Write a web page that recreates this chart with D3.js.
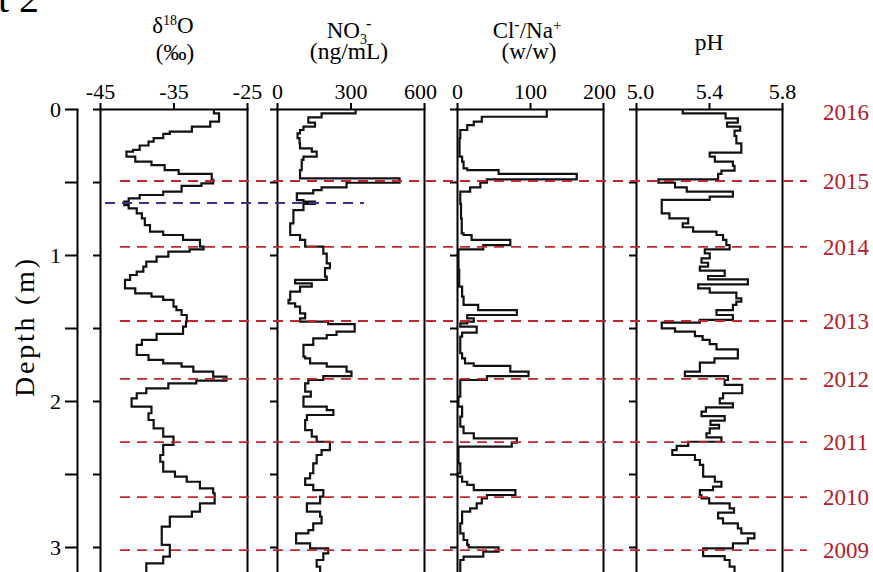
<!DOCTYPE html>
<html><head><meta charset="utf-8">
<script src="https://cdn.jsdelivr.net/npm/d3@7"></script>
<style>
body{margin:0;background:#fff}
svg{display:block}
text{font-family:"Liberation Serif","Times New Roman",serif}
</style>
</head><body>
<svg id="c" width="873" height="572"></svg>
<script>
// ---------------- data ----------------
const depthTicks = [0, 0.5, 1, 1.5, 2, 2.5, 3];
const yearLabels = ["2016", "2015", "2014", "2013", "2012", "2011", "2010", "2009"];
const yearDepths = [0.025, 0.493, 0.945, 1.452, 1.849, 2.281, 2.658, 3.021];
const blueDepth = 0.644;

const d18OTicks = [-45, -35, -25];
const d18OTickLabels = ["-45", "-35", "-25"];
const no3Ticks = [0, 300, 600];
const no3TickLabels = ["0", "300", "600"];
const clnaTicks = [0, 100, 200];
const clnaTickLabels = ["0", "100", "200"];
const phTicks = [5.0, 5.4, 5.8];
const phTickLabels = ["5.0", "5.4", "5.8"];

// [top depth of sample (m), value]
const d18O = [[0.00,-29.5],[0.03,-28.8],[0.087,-30.0],[0.121,-32.5],[0.155,-35.5],[0.17,-36.4],[0.20,-37.7],[0.224,-38.4],[0.25,-39.6],[0.28,-40.5],[0.292,-41.4],[0.326,-40.2],[0.361,-38.0],[0.384,-36.2],[0.418,-34.3],[0.445,-29.8],[0.486,-29.6],[0.509,-31.2],[0.527,-33.9],[0.566,-36.4],[0.589,-39.6],[0.612,-41.1],[0.635,-41.7],[0.658,-41.1],[0.68,-40.0],[0.715,-39.3],[0.749,-38.9],[0.795,-38.2],[0.84,-36.4],[0.863,-33.7],[0.897,-31.4],[0.943,-30.9],[0.961,-32.8],[0.977,-35.7],[1.011,-37.3],[1.046,-38.7],[1.08,-39.1],[1.114,-40.0],[1.137,-40.9],[1.171,-41.6],[1.228,-40.2],[1.263,-38.0],[1.285,-36.4],[1.308,-35.0],[1.354,-34.6],[1.377,-33.9],[1.411,-33.2],[1.457,-33.3],[1.49,-33.7],[1.54,-37.3],[1.582,-39.3],[1.616,-40.0],[1.685,-38.4],[1.719,-36.4],[1.742,-33.9],[1.765,-32.3],[1.799,-29.6],[1.833,-27.8],[1.861,-31.9],[1.879,-35.7],[1.913,-38.7],[1.947,-40.0],[1.982,-40.7],[2.039,-38.0],[2.084,-38.4],[2.13,-37.7],[2.187,-36.4],[2.244,-35.0],[2.301,-36.4],[2.37,-36.8],[2.416,-36.4],[2.484,-34.8],[2.518,-33.2],[2.553,-31.4],[2.598,-29.6],[2.632,-29.4],[2.701,-31.4],[2.758,-32.5],[2.792,-35.5],[2.861,-36.6],[2.986,-35.5],[3.066,-36.4],[3.112,-38.7]];

const no3 = [[0.00,321],[0.03,182],[0.057,128],[0.093,155],[0.121,108],[0.144,94],[0.167,84],[0.20,92],[0.235,94],[0.27,142],[0.292,162],[0.326,108],[0.349,101],[0.418,94],[0.475,500],[0.505,284],[0.537,182],[0.555,148],[0.578,81],[0.624,108],[0.635,155],[0.65,108],[0.692,67],[0.783,54],[0.863,94],[0.897,115],[0.943,189],[0.99,203],[1.057,216],[1.09,196],[1.148,203],[1.171,74],[1.194,142],[1.217,94],[1.251,54],[1.308,47],[1.331,74],[1.354,94],[1.40,115],[1.434,94],[1.457,209],[1.473,317],[1.525,243],[1.548,203],[1.571,148],[1.616,108],[1.696,115],[1.708,135],[1.742,203],[1.765,284],[1.799,304],[1.829,189],[1.856,128],[1.879,115],[1.936,138],[1.97,108],[2.039,203],[2.062,230],[2.096,122],[2.13,115],[2.199,142],[2.244,162],[2.279,216],[2.336,182],[2.37,162],[2.427,148],[2.495,135],[2.53,115],[2.575,148],[2.61,189],[2.655,176],[2.701,122],[2.758,176],[2.792,182],[2.838,148],[2.884,128],[2.906,78],[2.975,135],[3.009,209],[3.043,189],[3.089,162],[3.135,176]];

const clna = [[0.00,123],[0.053,34],[0.087,23],[0.11,14],[0.144,4.5],[0.20,3.5],[0.326,7],[0.361,9],[0.406,14],[0.418,57],[0.445,164],[0.482,41],[0.505,32],[0.537,18],[0.566,4.5],[0.65,5.5],[0.75,6.5],[0.852,9],[0.863,20],[0.897,73],[0.932,36],[0.961,2],[1.10,3],[1.217,7],[1.285,9],[1.342,29],[1.377,82],[1.411,14],[1.434,23],[1.457,14],[1.468,4.5],[1.491,27],[1.532,7],[1.559,4.5],[1.673,7],[1.708,11],[1.742,23],[1.76,73],[1.799,98],[1.829,41],[1.856,4.5],[1.97,2],[2.039,7],[2.107,4.5],[2.176,9],[2.221,23],[2.256,82],[2.285,75],[2.313,2],[2.427,4.5],[2.495,1],[2.518,7],[2.553,14],[2.575,23],[2.61,80],[2.644,41],[2.667,34],[2.701,27],[2.735,18],[2.758,7],[2.838,4.5],[2.906,9],[2.952,14],[2.986,16],[3.002,57],[3.032,36],[3.066,9],[3.089,4.5]];

const ph = [[0.00,5.256],[0.03,5.491],[0.064,5.558],[0.094,5.499],[0.121,5.571],[0.148,5.54],[0.185,5.55],[0.235,5.577],[0.299,5.404],[0.326,5.432],[0.361,5.531],[0.39,5.54],[0.422,5.468],[0.445,5.45],[0.482,5.123],[0.505,5.214],[0.537,5.278],[0.566,5.531],[0.60,5.404],[0.623,5.141],[0.715,5.183],[0.749,5.286],[0.783,5.256],[0.81,5.313],[0.84,5.441],[0.863,5.477],[0.897,5.495],[0.932,5.513],[0.961,5.377],[0.989,5.404],[1.023,5.359],[1.053,5.395],[1.08,5.35],[1.107,5.486],[1.144,5.395],[1.167,5.613],[1.201,5.341],[1.228,5.404],[1.258,5.55],[1.297,5.577],[1.32,5.55],[1.342,5.531],[1.377,5.441],[1.411,5.531],[1.445,5.35],[1.463,5.141],[1.502,5.214],[1.525,5.323],[1.555,5.365],[1.582,5.404],[1.61,5.441],[1.646,5.558],[1.708,5.43],[1.737,5.35],[1.799,5.268],[1.829,5.504],[1.856,5.486],[1.89,5.582],[1.947,5.477],[1.982,5.459],[2.016,5.531],[2.043,5.383],[2.073,5.359],[2.103,5.486],[2.135,5.408],[2.164,5.455],[2.187,5.404],[2.221,5.386],[2.249,5.468],[2.279,5.286],[2.308,5.223],[2.336,5.199],[2.37,5.323],[2.404,5.35],[2.438,5.368],[2.518,5.432],[2.553,5.468],[2.587,5.422],[2.61,5.35],[2.644,5.359],[2.667,5.401],[2.701,5.513],[2.735,5.537],[2.765,5.45],[2.804,5.477],[2.838,5.558],[2.872,5.577],[2.906,5.649],[2.941,5.613],[2.975,5.531],[3.009,5.368],[3.062,5.486],[3.089,5.513],[3.135,5.54]];

// ---------------- layout ----------------
const svg = d3.select("#c");
const FONT = '"Liberation Serif","Times New Roman",serif';
const depthMax = 3.2;
const y = d3.scaleLinear().domain([0, depthMax]).range([109, 109 + depthMax * 146]);

const panels = [
  {data: d18O, domain: [-45, -25], range: [100, 247], ticks: d18OTicks, labels: d18OTickLabels, shift: [0, 0, 0], cx: 173},
  {data: no3, domain: [0, 600], range: [277, 424], ticks: no3Ticks, labels: no3TickLabels, shift: [0, 0, -4], cx: 349},
  {data: clna, domain: [0, 200], range: [457, 603], ticks: clnaTicks, labels: clnaTickLabels, shift: [0, 0, -4], cx: 527},
  {data: ph, domain: [5.0, 5.8], range: [636, 782], ticks: phTicks, labels: phTickLabels, shift: [4, 0, 0], cx: 709}
];

function styleAxis(g, fs) {
  g.attr("font-family", FONT).attr("font-size", fs);
  g.selectAll("path.domain").attr("stroke", "#000").attr("stroke-width", 2).attr("stroke-linecap", "square");
  g.selectAll(".tick line").attr("stroke", "#000").attr("stroke-width", 2);
  g.selectAll(".tick text").attr("fill", "#000");
}

// depth axis
const yAxisG = svg.append("g").attr("transform", "translate(77,0)")
  .call(d3.axisLeft(y).tickValues(depthTicks).tickSize(12).tickSizeOuter(0).tickPadding(4)
    .tickFormat(d => Number.isInteger(d) ? String(d) : ""));
styleAxis(yAxisG, 22);
yAxisG.selectAll(".tick text").attr("dy", "0.34em");

svg.append("text")
  .attr("transform", "translate(34,328) rotate(-90)")
  .attr("text-anchor", "middle").attr("font-size", 28).attr("fill", "#000")
  .attr("textLength", 138).attr("lengthAdjust", "spacing")
  .text("Depth (m)");

// partial figure label at top-left
svg.append("text").attr("x", -2).attr("y", 12).attr("font-size", 40).attr("fill", "#000").text("t 2");

panels.forEach(p => {
  const x = d3.scaleLinear().domain(p.domain).range(p.range);
  const top = svg.append("g").attr("transform", `translate(0,${y(0)})`)
    .call(d3.axisTop(x).tickValues(p.ticks).tickFormat((d, i) => p.labels[i]).tickSize(6).tickSizeOuter(0).tickPadding(4.5));
  styleAxis(top, 22);
  top.selectAll(".tick text").attr("dx", (d, i) => p.shift[i]);
  const left = svg.append("g").attr("transform", `translate(${p.range[0]},0)`)
    .call(d3.axisLeft(y).tickValues(depthTicks).tickSize(7).tickSizeOuter(0).tickFormat(""));
  styleAxis(left, 22);
  const right = svg.append("g").attr("transform", `translate(${p.range[1]},0)`)
    .call(d3.axisRight(y).tickValues([]).tickSizeOuter(0));
  styleAxis(right, 22);

  // step profile
  const pts = [];
  p.data.forEach((s, i) => {
    const bottom = i + 1 < p.data.length ? p.data[i + 1][0] : depthMax;
    pts.push([s[1], s[0]]);
    pts.push([s[1], bottom]);
  });
  svg.append("path").datum(pts)
    .attr("fill", "none").attr("stroke", "#111").attr("stroke-width", 2.2).attr("stroke-linejoin", "miter")
    .attr("d", d3.line().x(d => x(d[0])).y(d => y(d[1])));
});

// headers
function header(cx, baseY, parts, fs) {
  const t = svg.append("text").attr("x", cx).attr("y", baseY).attr("text-anchor", "middle")
    .attr("font-size", fs).attr("fill", "#000");
  parts.forEach(pt => {
    const s = t.append("tspan").text(pt.t);
    if (pt.fs) s.attr("font-size", pt.fs);
    if (pt.dy) s.attr("dy", pt.dy);
    if (pt.dx) s.attr("dx", pt.dx);
  });
}
header(panels[0].cx, 33, [{t: "δ"}, {t: "18", fs: 14, dy: -8}, {t: "O", dy: 8}], 23);
header(panels[0].cx + 2, 60, [{t: "(‰)"}], 23);
header(panels[1].cx, 38, [{t: "NO"}, {t: "3", fs: 14, dy: 6}, {t: "-", fs: 16, dy: -15, dx: -1}], 23);
header(panels[1].cx, 59, [{t: "(ng/mL)"}], 23.5);
header(panels[2].cx, 38, [{t: "Cl"}, {t: "-", fs: 16, dy: -8}, {t: "/Na", dy: 8}, {t: "+", fs: 15, dy: -8}], 23);
header(panels[2].cx + 2, 59, [{t: "(w/w)"}], 23);
header(panels[3].cx, 50, [{t: "pH"}], 23.5);

// dashed year lines
const RED = "#c1272d";
svg.append("g").selectAll("line").data(yearDepths.slice(1)).join("line")
  .attr("x1", 120).attr("x2", 807)
  .attr("y1", d => y(d)).attr("y2", d => y(d))
  .attr("stroke", RED).attr("stroke-width", 1.8).attr("stroke-dasharray", "10,7");

svg.append("line")
  .attr("x1", 105).attr("x2", 364).attr("y1", y(blueDepth)).attr("y2", y(blueDepth))
  .attr("stroke", "#35358c").attr("stroke-width", 1.8).attr("stroke-dasharray", "10,7");

// year labels
svg.append("g").selectAll("text").data(yearLabels).join("text")
  .attr("x", 823).attr("y", (d, i) => y(yearDepths[i])).attr("dy", "0.34em")
  .attr("font-size", 23).attr("fill", "#b3202a").text(d => d);
</script>
</body></html>
